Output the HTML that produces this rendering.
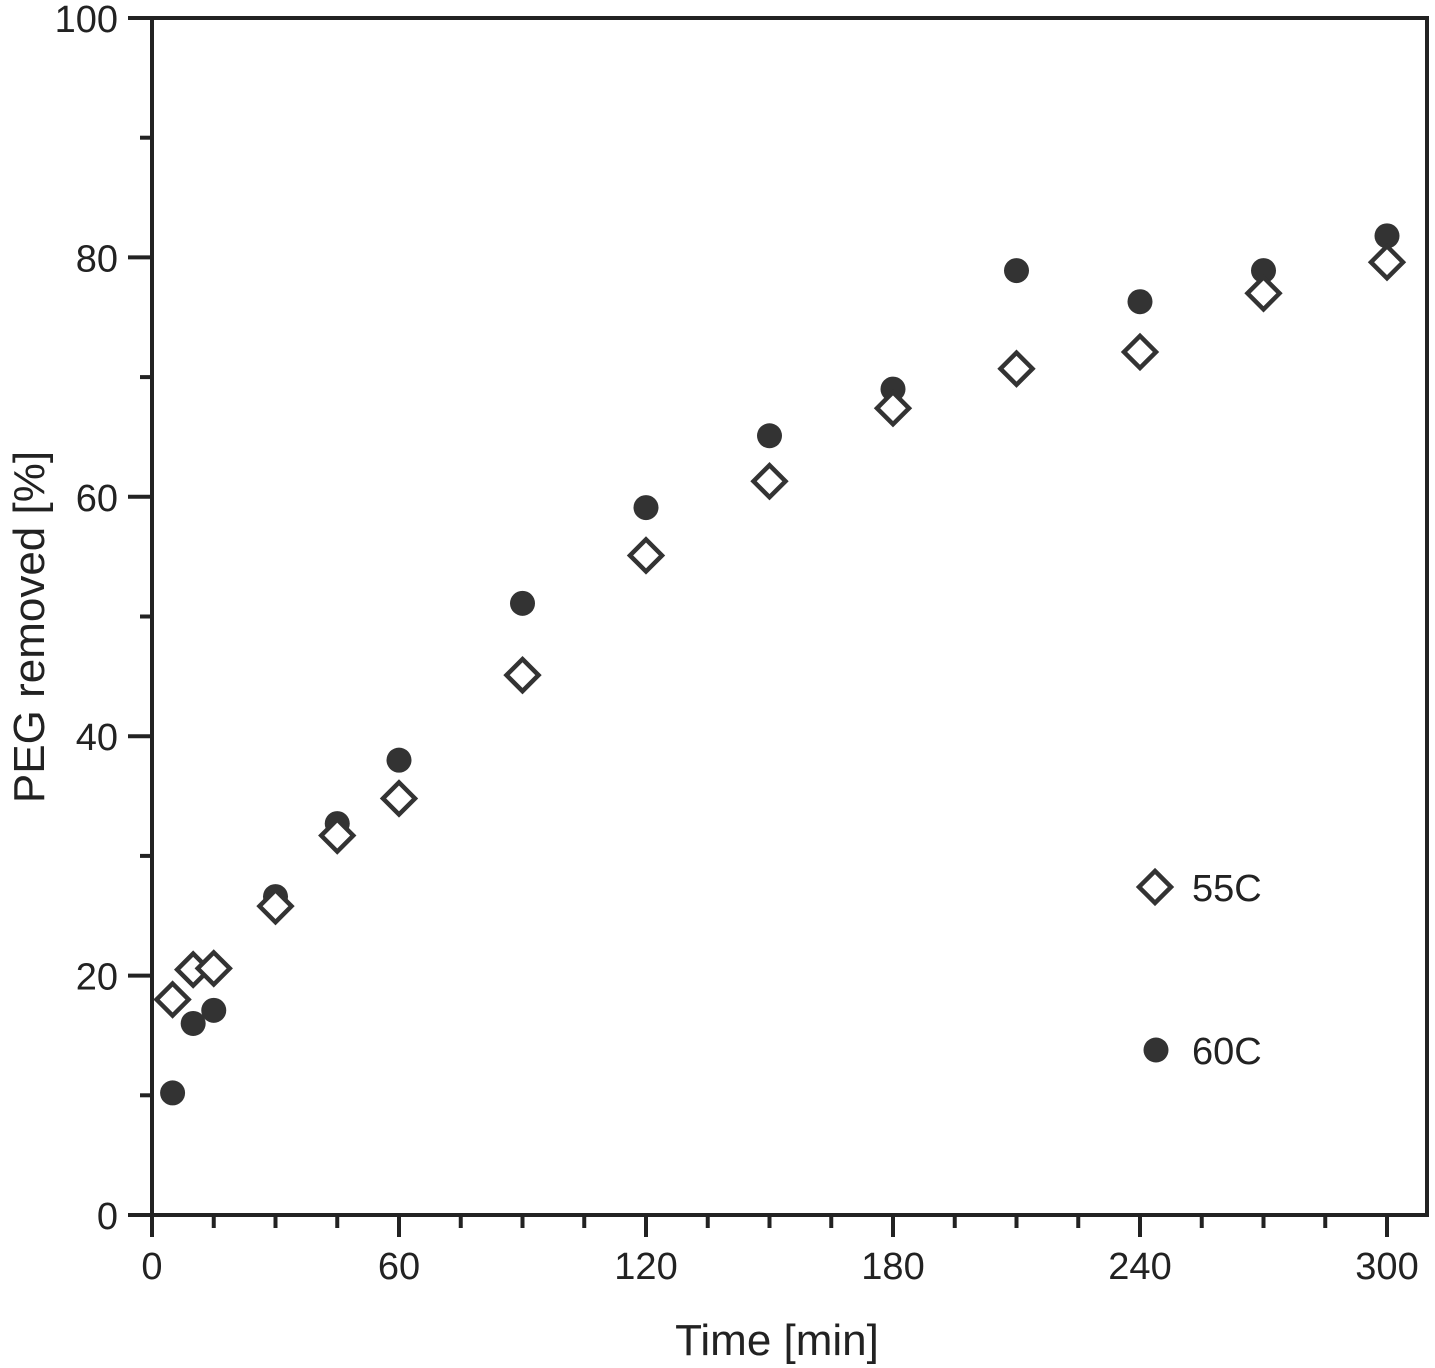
<!DOCTYPE html>
<html><head><meta charset="utf-8"><style>body{margin:0;background:#fff}svg{display:block}text{font-family:"Liberation Sans",sans-serif;fill:#222}</style></head>
<body>
<svg id="c" width="1435" height="1368"></svg>
<script>
const times=[5,10,15,30,45,60,90,120,150,180,210,240,270,300];
const s55=[18.0,20.5,20.6,25.8,31.7,34.8,45.1,55.1,61.3,67.4,70.7,72.1,77.0,79.6];
const s60=[10.2,16.0,17.1,26.6,32.7,38.0,51.1,59.1,65.1,69.0,78.9,76.3,78.9,81.8];
const xTicks=[0,60,120,180,240,300];
const yTicks=[0,20,40,60,80,100];
const L=152,R=1427,T=18,B=1215;
const X=v=>L+v*(1387-L)/300, Y=v=>B-v*(B-T)/100;
const svg=document.getElementById('c'),NS='http://www.w3.org/2000/svg';
function el(t,a,p){const e=document.createElementNS(NS,t);for(const k in a)e.setAttribute(k,a[k]);(p||svg).appendChild(e);return e;}
const frame=el('rect',{x:L,y:T,width:R-L,height:B-T,fill:'none',stroke:'#222','stroke-width':4});


for(let v=0;v<=300;v+=15){const maj=v%60===0;const t=el('line',{x1:X(v),x2:X(v),y1:B,y2:B+(maj?22:13),stroke:'#222','stroke-width':4});

}
for(let v=0;v<=100;v+=10){const maj=v%20===0;const t=el('line',{x1:L-(maj?24:12),x2:L,y1:Y(v),y2:Y(v),stroke:'#222','stroke-width':4});

}
xTicks.forEach(v=>{const t=el('text',{x:X(v),y:B+64,'text-anchor':'middle','font-size':38});t.textContent=v;

});
yTicks.forEach(v=>{const t=el('text',{x:118,y:Y(v)+14,'text-anchor':'end','font-size':38});t.textContent=v;

});
const xt=el('text',{x:777,y:1355,'text-anchor':'middle','font-size':44});xt.textContent='Time [min]';


const yt=el('text',{x:0,y:0,'text-anchor':'middle','font-size':44,transform:'translate(44,627) rotate(-90)'});yt.textContent='PEG removed [%]';


function dot(x,y){return el('circle',{cx:x,cy:y,r:12.5,fill:'#333'});}
function dia(x,y){const r=16;return el('path',{d:`M${x} ${y-r}L${x+r} ${y}L${x} ${y+r}L${x-r} ${y}Z`,fill:'#fff',stroke:'#333','stroke-width':4.5});}
times.forEach((t,i)=>{const c=dot(X(t),Y(s60[i]));

});
times.forEach((t,i)=>{const d=dia(X(t),Y(s55[i]));

});
const l1=dia(1155,887);


const l1t=el('text',{x:1192,y:901,'font-size':38});l1t.textContent='55C';


const l2=dot(1156,1050);


const l2t=el('text',{x:1192,y:1064,'font-size':38});l2t.textContent='60C';


</script>
</body></html>
